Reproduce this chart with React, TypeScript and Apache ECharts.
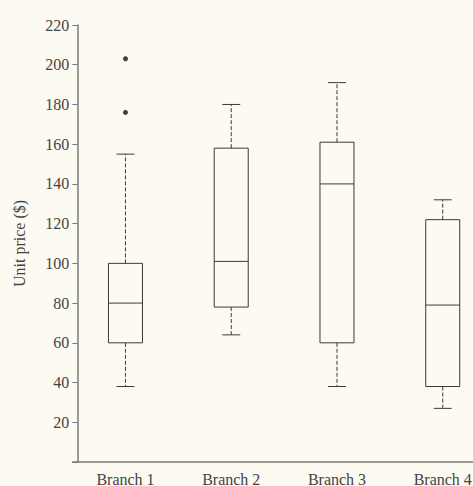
import React, { useEffect, useRef } from "react";
import * as echarts from "echarts";

const categories = ["Branch 1", "Branch 2", "Branch 3", "Branch 4"];
// [low whisker, Q1, median, Q3, high whisker]
const boxValues = [
  [38, 60, 80, 100, 155],
  [64, 78, 101, 158, 180],
  [38, 60, 140, 161, 191],
  [27, 38, 79, 122, 132],
];
const outliers = [
  [0, 203],
  [0, 176],
];
const yTicks = { min: 0, max: 220, interval: 20 };

const FONT = "'Liberation Serif', 'DejaVu Serif', serif";
const LINE = "#3a3a3a";

export default function App() {
  const ref = useRef<HTMLDivElement>(null);
  useEffect(() => {
    if (!ref.current) return;
    const chart = echarts.init(ref.current, null, { renderer: "svg" });
    const boxData = boxValues.map((v, i) => [i, ...v]);
    chart.setOption({
      animation: false,
      backgroundColor: "#fdfaf2",
      grid: {
        left: 72.6,
        right: -22.6,
        top: 25,
        bottom: 24,
        containLabel: false,
        outerBoundsMode: "none",
      },
      xAxis: {
        type: "category",
        data: categories,
        boundaryGap: true,
        axisLine: { lineStyle: { color: "#7a7a7a", width: 1.5 } },
        axisTick: { show: false },
        axisLabel: { color: "#444", fontFamily: FONT, fontSize: 16, margin: 9 },
      },
      yAxis: {
        type: "value",
        min: yTicks.min,
        max: yTicks.max,
        interval: yTicks.interval,
        offset: -4.7,
        name: "Unit price ($)",
        nameLocation: "middle",
        nameGap: 50,
        nameTextStyle: { color: "#444", fontFamily: FONT, fontSize: 16 },
        splitLine: { show: false },
        axisLine: { show: true, lineStyle: { color: "#7a7a7a", width: 1.5 } },
        axisTick: { show: true, length: 5, lineStyle: { color: "#7a7a7a" } },
        axisLabel: {
          color: "#444",
          fontFamily: FONT,
          fontSize: 16,
          margin: 8,
          formatter: (v: number) => (v === 0 ? "" : String(v)),
        },
      },
      series: [
        {
          type: "custom",
          data: boxData,
          encode: { x: 0, y: [1, 2, 3, 4, 5] },
          renderItem: (params: any, api: any) => {
            const idx = api.value(0);
            const low = api.coord([idx, api.value(1)]);
            const q1 = api.coord([idx, api.value(2)]);
            const med = api.coord([idx, api.value(3)]);
            const q3 = api.coord([idx, api.value(4)]);
            const high = api.coord([idx, api.value(5)]);
            const cx = low[0];
            const bw = 34;
            const cw = 18;
            const solid = { stroke: LINE, lineWidth: 1, fill: null };
            const dashed = { stroke: LINE, lineWidth: 1, lineDash: [4, 2], fill: null };
            return {
              type: "group",
              children: [
                {
                  type: "rect",
                  shape: { x: cx - bw / 2, y: q3[1], width: bw, height: q1[1] - q3[1] },
                  style: { stroke: LINE, lineWidth: 1, fill: "transparent" },
                },
                {
                  type: "line",
                  shape: { x1: cx - bw / 2, y1: med[1], x2: cx + bw / 2, y2: med[1] },
                  style: solid,
                },
                {
                  type: "line",
                  shape: { x1: cx, y1: q3[1], x2: cx, y2: high[1] },
                  style: dashed,
                },
                {
                  type: "line",
                  shape: { x1: cx, y1: q1[1], x2: cx, y2: low[1] },
                  style: dashed,
                },
                {
                  type: "line",
                  shape: { x1: cx - cw / 2, y1: high[1], x2: cx + cw / 2, y2: high[1] },
                  style: solid,
                },
                {
                  type: "line",
                  shape: { x1: cx - cw / 2, y1: low[1], x2: cx + cw / 2, y2: low[1] },
                  style: solid,
                },
              ],
            };
          },
        },
        {
          type: "scatter",
          data: outliers,
          symbol: "circle",
          symbolSize: 5,
          itemStyle: { color: "#111" },
        },
      ],
    });
    return () => chart.dispose();
  }, []);
  return (
    <div
      ref={ref}
      style={{ position: "absolute", left: 0, top: 0, width: 473, height: 486 }}
    />
  );
}
